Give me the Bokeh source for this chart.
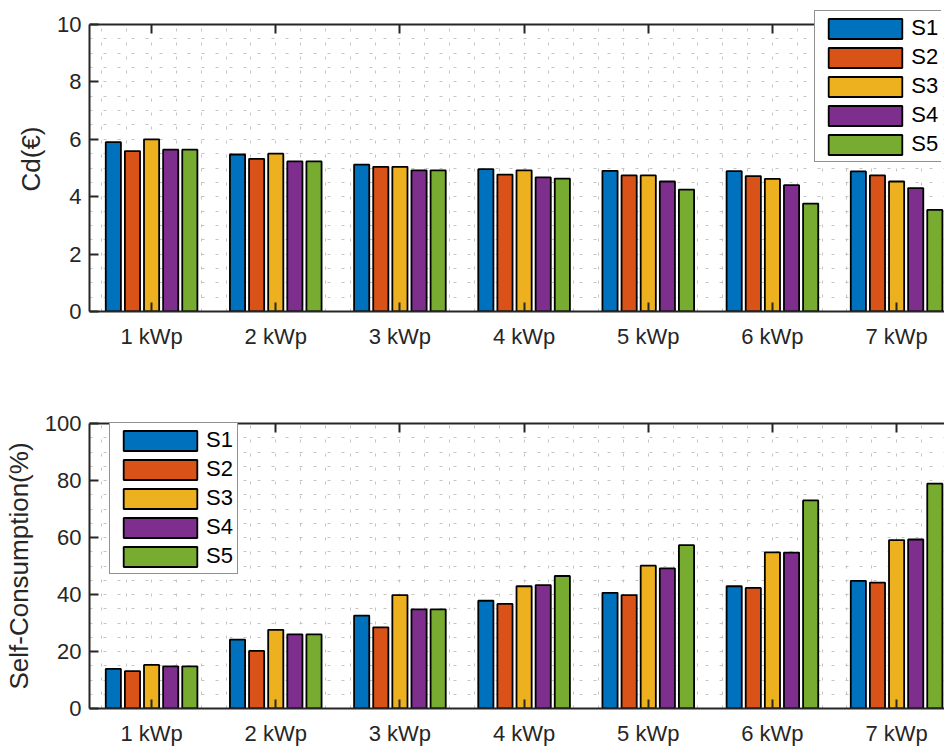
import numpy as np
from bokeh.plotting import figure
from bokeh.layouts import column
from bokeh.models import (Range1d, FixedTicker, LinearAxis, Legend, LegendItem,
                          ColumnDataSource, BoxAnnotation)
from bokeh.embed import file_html
from bokeh.resources import INLINE

# ---------------- data ----------------
categories = ["1 kWp", "2 kWp", "3 kWp", "4 kWp", "5 kWp", "6 kWp", "7 kWp"]
series_names = ["S1", "S2", "S3", "S4", "S5"]

cd_S1 = [5.90, 5.47, 5.12, 4.96, 4.90, 4.89, 4.88]
cd_S2 = [5.59, 5.32, 5.04, 4.77, 4.74, 4.72, 4.74]
cd_S3 = [6.00, 5.50, 5.04, 4.92, 4.74, 4.62, 4.53]
cd_S4 = [5.64, 5.23, 4.92, 4.67, 4.53, 4.40, 4.30]
cd_S5 = [5.64, 5.23, 4.92, 4.63, 4.25, 3.76, 3.54]

sc_S1 = [13.9, 24.2, 32.6, 37.8, 40.6, 42.9, 44.8]
sc_S2 = [13.1, 20.2, 28.5, 36.7, 39.8, 42.3, 44.2]
sc_S3 = [15.3, 27.6, 39.8, 42.9, 50.1, 54.8, 59.1]
sc_S4 = [14.8, 26.0, 34.8, 43.3, 49.2, 54.7, 59.3]
sc_S5 = [14.8, 26.0, 34.8, 46.5, 57.3, 73.0, 78.9]

colors = ["#0072BD", "#D95319", "#EDB120", "#7E2F8E", "#77AC30"]

TXT = "#262626"
FONT = "Liberation Sans"
FRAME_W = 858
X0, X1 = 0.5, 7.41
XSCALE = FRAME_W / (X1 - X0)


def make_panel(series, ymax, ystep, grid_step, ylabel, border_top, axes_h,
               extra_top, border_bottom, legend_loc, legend_in_top):
    """axes_h: pixel height of the 0..ymax box; extra_top: free frame pixels above it."""
    frame_h = axes_h + extra_top
    yview = ymax * frame_h / axes_h
    p = figure(frame_width=FRAME_W, frame_height=frame_h, output_backend="svg",
               toolbar_location=None, min_border_left=86, min_border_right=0,
               min_border_top=border_top, min_border_bottom=border_bottom,
               x_range=Range1d(X0, X1), y_range=Range1d(0, yview),
               background_fill_color="white", border_fill_color="white")
    p.outline_line_color = None

    xs = np.arange(1, len(categories) + 1)
    step = 0.154
    renderers = []
    for i, (name, vals) in enumerate(zip(series_names, series)):
        src = ColumnDataSource(dict(x=xs + (i - 2) * step, top=vals))
        r = p.vbar(x="x", top="top", bottom=0, width=0.122, source=src,
                   fill_color=colors[i], line_color="#000000", line_width=1.8)
        renderers.append(r)

    # grids (dotted, minor-style)
    p.xgrid.ticker = FixedTicker(ticks=list(np.round(np.arange(0.6, 7.5, 0.2), 3)))
    p.ygrid.ticker = FixedTicker(ticks=list(np.arange(grid_step, ymax, grid_step)))
    for g in (p.xgrid, p.ygrid):
        g.grid_line_color = "#c4c4c4"
        g.grid_line_dash = "3 11"
        g.grid_line_width = 1

    if extra_top > 0:
        # blank strip above the axes box (hides grid there)
        p.add_layout(BoxAnnotation(bottom=ymax, fill_color="white", fill_alpha=1.0,
                                   line_color=None, level="underlay"))

    # x axis
    xa = p.xaxis[0]
    xa.ticker = FixedTicker(ticks=list(xs))
    xa.major_label_overrides = {int(k): c for k, c in zip(xs, categories)}
    # y axis
    ya = p.yaxis[0]
    ya.ticker = FixedTicker(ticks=list(np.arange(0, ymax + ystep / 2, ystep)))
    ya.bounds = (0, ymax)
    ya.axis_label = ylabel
    for ax in (xa, ya):
        ax.axis_line_color = TXT
        ax.axis_line_width = 2
        ax.major_tick_line_color = TXT
        ax.major_tick_line_width = 2
        ax.major_tick_in = 9
        ax.major_tick_out = 0
        ax.minor_tick_line_color = None
        ax.major_label_text_font = FONT
        ax.major_label_text_font_size = "22px"
        ax.major_label_text_color = TXT
    xa.major_label_standoff = 12
    ya.major_label_standoff = 8
    ya.axis_label_text_font = FONT
    ya.axis_label_text_font_size = "26px"
    ya.axis_label_text_font_style = "normal"
    ya.axis_label_text_color = TXT
    ya.axis_label_standoff = 8

    # top spine with inward ticks
    top = LinearAxis(ticker=FixedTicker(ticks=list(xs)))
    if extra_top > 0:
        top.fixed_location = ymax
    if legend_in_top:
        top.bounds = (X0, X0 + (legend_loc[0] + 2) / XSCALE)
    top.axis_line_color = TXT
    top.axis_line_width = 2
    top.major_tick_line_color = TXT
    top.major_tick_line_width = 2
    top.major_tick_in = 9
    top.major_tick_out = 0
    top.minor_tick_line_color = None
    top.major_label_overrides = {int(k): "" for k in xs}
    top.major_label_text_font_size = "1px"
    top.major_label_standoff = 0
    p.add_layout(top, "above")

    items = [LegendItem(label=n, renderers=[r]) for n, r in zip(series_names, renderers)]
    leg = Legend(items=items, location=legend_loc)
    leg.glyph_width = 92
    leg.glyph_height = 25
    leg.label_height = 25
    leg.spacing = 3
    leg.padding = 4
    leg.margin = 0
    leg.label_standoff = 0
    leg.label_text_font = FONT
    leg.label_text_font_size = "22px"
    leg.label_text_color = "#000000"
    leg.border_line_color = TXT
    leg.border_line_width = 1.5
    leg.background_fill_color = "white"
    leg.background_fill_alpha = 1.0
    p.add_layout(leg, "center")
    return p


p1 = make_panel([cd_S1, cd_S2, cd_S3, cd_S4, cd_S5], 10, 2, 0.5, "Cd(€)",
                6, 287, 18, 59, (735, 149), True)
p2 = make_panel([sc_S1, sc_S2, sc_S3, sc_S4, sc_S5], 100, 20, 5,
                "Self-Consumption(%)", 53, 285, 0, 39, (20, 134), False)

layout = column(p1, p2, spacing=0)
open("out.html", "w").write(file_html(layout, INLINE))
